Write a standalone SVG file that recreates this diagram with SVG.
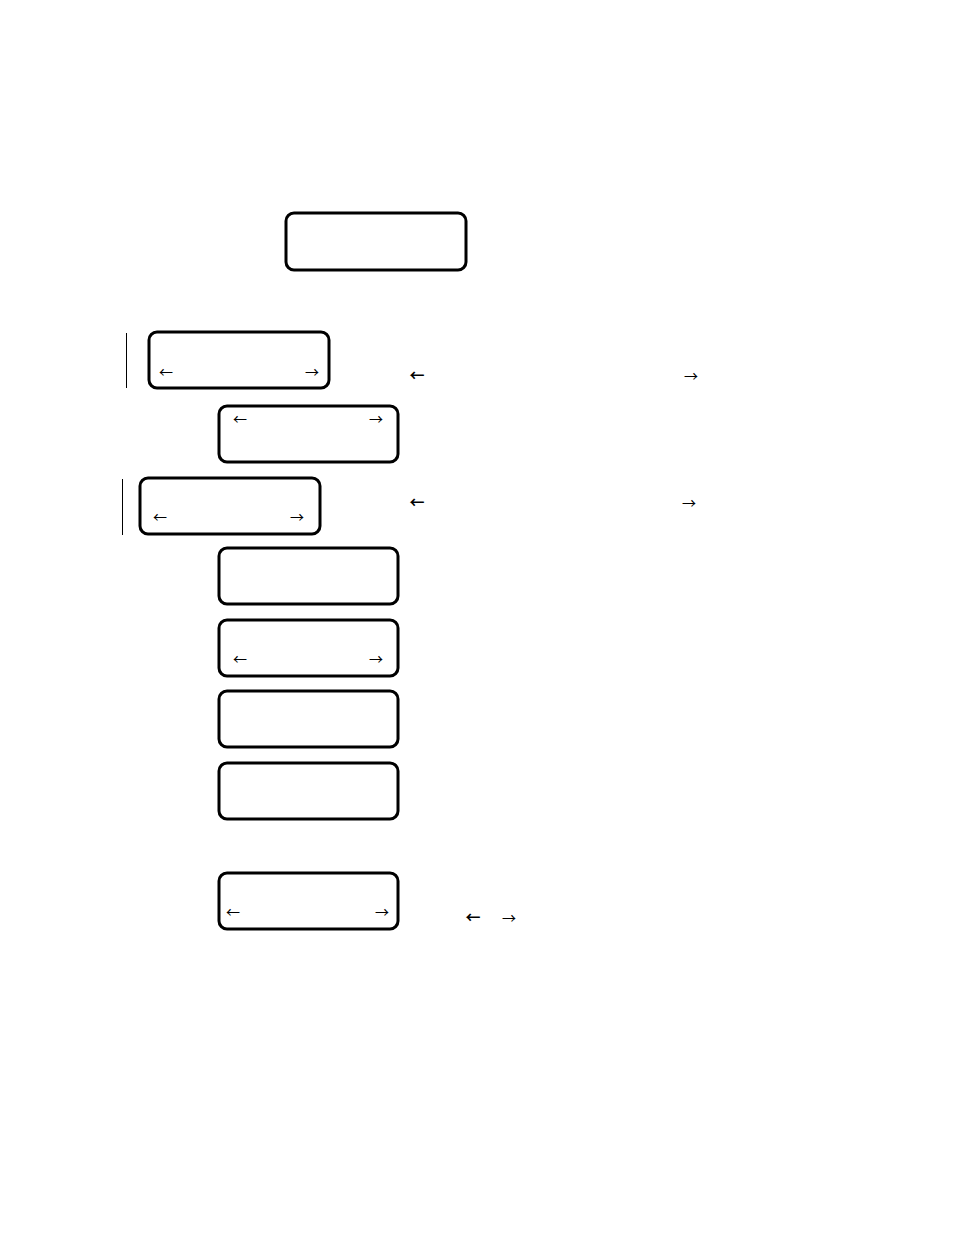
<svg xmlns="http://www.w3.org/2000/svg" width="954" height="1235" viewBox="0 0 954 1235">
<style>
.box{fill:#fff;stroke:#000;stroke-width:3;}
.ar{font-family:"Noto Sans CJK SC","DejaVu Sans",sans-serif;font-size:14px;text-anchor:middle;fill:#000;}
.arb{font-family:"Noto Sans CJK SC","DejaVu Sans",sans-serif;font-size:15px;font-weight:bold;text-anchor:middle;fill:#000;}
.bar{stroke:#000;stroke-width:1;}
</style>
<rect width="954" height="1235" fill="#fff"/>
<g id="n1"><rect class="box" x="286" y="213" width="180" height="57" rx="8"/></g>
<g id="n2"><rect class="box" x="149" y="332" width="180" height="56" rx="8"/><text class="ar" x="166" y="377">←</text><text class="ar" x="312" y="377">→</text></g>
<g id="n3"><rect class="box" x="219" y="406" width="179" height="56" rx="8"/><text class="ar" x="240" y="424">←</text><text class="ar" x="376" y="424">→</text></g>
<g id="n4"><rect class="box" x="140" y="478" width="180" height="56" rx="8"/><text class="ar" x="160" y="522">←</text><text class="ar" x="297" y="522">→</text></g>
<g id="n5"><rect class="box" x="219" y="548" width="179" height="56" rx="8"/></g>
<g id="n6"><rect class="box" x="219" y="620" width="179" height="56" rx="8"/><text class="ar" x="240" y="664">←</text><text class="ar" x="376" y="664">→</text></g>
<g id="n7"><rect class="box" x="219" y="691" width="179" height="56" rx="8"/></g>
<g id="n8"><rect class="box" x="219" y="763" width="179" height="56" rx="8"/></g>
<g id="n9"><rect class="box" x="219" y="873" width="179" height="56" rx="8"/><text class="ar" x="233" y="917">←</text><text class="ar" x="382" y="917">→</text></g>
<g id="connectors">
<line class="bar" x1="126.5" y1="333" x2="126.5" y2="388"/>
<line class="bar" x1="122.5" y1="479" x2="122.5" y2="535"/>
</g>
<g id="labels">
<text class="arb" x="417" y="381">←</text><text class="ar" x="691" y="381">→</text>
<text class="arb" x="417" y="508">←</text><text class="ar" x="689" y="508">→</text>
<text class="arb" x="473" y="923">←</text><text class="ar" x="509" y="923">→</text>
</g>
</svg>
